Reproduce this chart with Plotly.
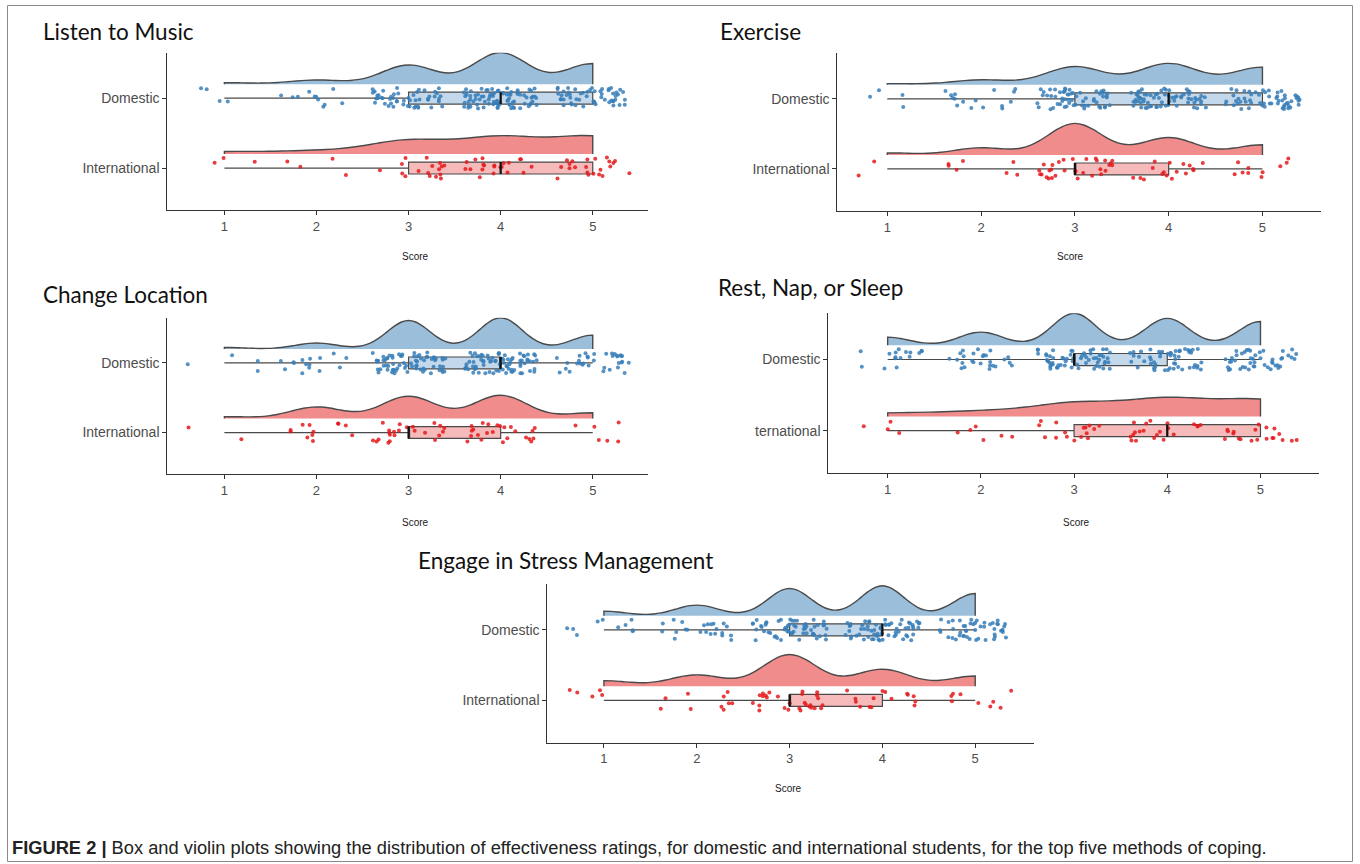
import numpy as np
import plotly.graph_objects as go

W, H = 1360, 864

# ---- data -------------------------------------------------------------
SCORES = [1, 2, 3, 4, 5]
X_TICK_LABELS = ["1", "2", "3", "4", "5"]

TITLES = [
    "Listen to Music",
    "Exercise",
    "Change Location",
    "Rest, Nap, or Sleep",
    "Engage in Stress Management",
]

# category tick labels, bottom row first (International, Domestic)
Y_LABELS = [
    ["International", "Domestic"],
    ["International", "Domestic"],
    ["International", "Domestic"],
    ["ternational", "Domestic"],
    ["International", "Domestic"],
]

# respondents giving each score 1..5
listen_domestic = [4, 11, 51, 84, 55]
listen_international = [3, 4, 17, 21, 22]
exercise_domestic = [4, 16, 59, 69, 57]
exercise_international = [2, 7, 31, 17, 10]
location_domestic = [4, 15, 72, 79, 35]
location_international = [2, 12, 23, 24, 6]
rest_domestic = [16, 26, 63, 53, 47]
rest_international = [4, 6, 16, 21, 20]
stress_domestic = [10, 23, 59, 65, 48]
stress_international = [5, 10, 28, 15, 9]

CAPTION_HEAD = "FIGURE 2 |"
CAPTION_BODY = ("Box and violin plots showing the distribution of effectiveness ratings, "
                "for domestic and international students, for the top five methods of coping.")

DATA = [
    (listen_domestic, listen_international),
    (exercise_domestic, exercise_international),
    (location_domestic, location_international),
    (rest_domestic, rest_international),
    (stress_domestic, stress_international),
]

# ---- layout geometry (pixels) ----------------------------------------
PANELS = [
    dict(px=(167.3, 648.0), py=(52.7, 210.0), xr=(0.38, 5.60), title=(41, 32), score=(415, 256)),
    dict(px=(837.3, 1320.6), py=(53.3, 211.0), xr=(0.467, 5.62), title=(718, 32), score=(1070, 256)),
    dict(px=(167.3, 648.0), py=(317.7, 474.3), xr=(0.38, 5.60), title=(41, 295), score=(415, 522)),
    dict(px=(828.3, 1319.2), py=(313.3, 473.3), xr=(0.363, 5.63), title=(716, 288), score=(1076, 522)),
    dict(px=(547.3, 1033.7), py=(584.0, 742.7), xr=(0.39, 5.63), title=(416, 560), score=(788, 788)),
]

DOM = (55, 126, 184)
INTL = (228, 26, 28)
OUTLINE = "#4a4a4a"
AXIS = "#333333"
Y_RANGE = [0.4, 2.65]
VIOLIN_LIFT = 0.2
VIOLIN_W = 0.9
BOX_H = 0.17


def rgba(c, a):
    return f"rgba({c[0]},{c[1]},{c[2]},{a})"


def fx(px):
    return px / W


def fy(py):
    return 1 - py / H


def nrd0(v):
    """Silverman's rule of thumb (R's bw.nrd0)."""
    sd = np.std(v, ddof=1)
    q75, q25 = np.percentile(v, [75, 25])
    lo = min(sd, (q75 - q25) / 1.34)
    return 0.9 * lo * len(v) ** -0.2


def kde_peak(v, bw):
    """Largest value of the gaussian density over the data span."""
    lo, hi = v.min(), v.max()
    n = int(np.ceil((hi - lo) / (bw / 3)))
    t = np.linspace(lo, hi, n + 1)
    z = (t[:, None] - v[None, :]) / bw
    dens = np.exp(-0.5 * z ** 2).sum(axis=1) / (len(v) * bw * np.sqrt(2 * np.pi))
    return dens.max()


def hash01(i, salt):
    """Deterministic scatter in [0, 1) used for jittering tied scores."""
    return np.modf(np.abs(np.sin(i * 12.9898 + salt * 78.233)) * 43758.5453)[0]


def jitter(vals, pos, start):
    i = np.arange(len(vals)) + start
    return vals + (hash01(i, 1.0) - 0.5) * 0.8, pos + (hash01(i, 2.0) - 0.5) * 0.3


fig = go.Figure()
layout_axes = {}
annotations = []

for k, (panel, pair) in enumerate(zip(PANELS, DATA)):
    suf = "" if k == 0 else str(k + 1)
    xa, ya = f"x{suf}", f"y{suf}"

    samples = [np.repeat(SCORES, c).astype(float) for c in pair]
    bws = [nrd0(v) for v in samples]
    peaks = [kde_peak(v, b) for v, b in zip(samples, bws)]
    top = max(peaks)

    for g, (vals, bw, peak, pos, col) in enumerate(zip(samples, bws, peaks, [2, 1], [DOM, INTL])):
        # densities share one scale within a panel (equal areas)
        fig.add_trace(go.Violin(
            x=vals, y0=pos + VIOLIN_LIFT, orientation="h", side="positive",
            width=VIOLIN_W * peak / top, scalemode="width",
            name=f"v{k}{g}", scalegroup=f"v{k}{g}",
            spanmode="hard", bandwidth=bw, points=False,
            fillcolor=rgba(col, 0.5), line=dict(color=OUTLINE, width=1.4),
            box_visible=False, meanline_visible=False,
            xaxis=xa, yaxis=ya, showlegend=False, hoverinfo="skip"))

        jx, jy = jitter(vals, pos, k * 400 + g * 200)
        fig.add_trace(go.Scatter(
            x=jx, y=jy, mode="markers",
            marker=dict(size=4, color=rgba(col, 0.85), line=dict(width=0)),
            xaxis=xa, yaxis=ya, showlegend=False, hoverinfo="skip"))

        fig.add_trace(go.Box(
            x=vals, y0=pos, orientation="h", width=BOX_H, boxpoints=False,
            whiskerwidth=0, fillcolor=rgba(col, 0.3),
            line=dict(color=OUTLINE, width=1.2),
            xaxis=xa, yaxis=ya, showlegend=False, hoverinfo="skip"))

        med = float(np.median(vals))
        fig.add_trace(go.Scatter(
            x=[med, med], y=[pos - BOX_H / 2, pos + BOX_H / 2], mode="lines",
            line=dict(color="#111111", width=2.2),
            xaxis=xa, yaxis=ya, showlegend=False, hoverinfo="skip"))

    layout_axes[f"xaxis{suf}"] = dict(
        domain=[fx(panel["px"][0]), fx(panel["px"][1])], anchor=ya,
        range=list(panel["xr"]), tickvals=SCORES, ticktext=X_TICK_LABELS,
        showline=True, linecolor=AXIS, linewidth=1, ticks="outside", ticklen=4,
        tickcolor=AXIS, showgrid=False, zeroline=False,
        tickfont=dict(family="Liberation Sans, Arial", size=13, color="#4d4d4d"))
    layout_axes[f"yaxis{suf}"] = dict(
        domain=[fy(panel["py"][1]), fy(panel["py"][0])], anchor=xa, type="linear",
        range=Y_RANGE, tickvals=[1, 2], ticktext=Y_LABELS[k],
        showline=True, linecolor=AXIS, linewidth=1, ticks="outside", ticklen=4,
        tickcolor=AXIS, showgrid=False, zeroline=False,
        tickfont=dict(family="Liberation Sans, Arial", size=14, color="#4d4d4d"))

    tx, ty = panel["title"]
    annotations.append(dict(
        text=TITLES[k], x=fx(tx), y=fy(ty), xref="paper", yref="paper",
        xanchor="left", yanchor="middle", showarrow=False,
        font=dict(family="Lato, Open Sans, sans-serif", size=22.5, color="#111111")))
    sx, sy = panel["score"]
    annotations.append(dict(
        text="Score", x=fx(sx), y=fy(sy), xref="paper", yref="paper",
        xanchor="center", yanchor="middle", showarrow=False,
        font=dict(family="Liberation Sans, Arial", size=10, color="#1a1a1a")))

annotations.append(dict(
    text=f"<b>{CAPTION_HEAD}</b> {CAPTION_BODY}", x=fx(10), y=fy(847),
    xref="paper", yref="paper", xanchor="left", yanchor="middle", showarrow=False,
    font=dict(family="Liberation Sans, Arial", size=18.3, color="#222222")))

fig.update_layout(
    width=W, height=H, margin=dict(l=0, r=0, t=0, b=0),
    paper_bgcolor="white", plot_bgcolor="white",
    violinmode="overlay", boxmode="overlay", showlegend=False,
    annotations=annotations,
    shapes=[dict(type="rect", xref="paper", yref="paper",
                 x0=fx(7.5), x1=fx(1352.5), y0=fy(861.5), y1=fy(5.5),
                 line=dict(color="#8a8a8a", width=1), fillcolor="rgba(0,0,0,0)")],
    **layout_axes,
)

fig.write_html("out.html")
